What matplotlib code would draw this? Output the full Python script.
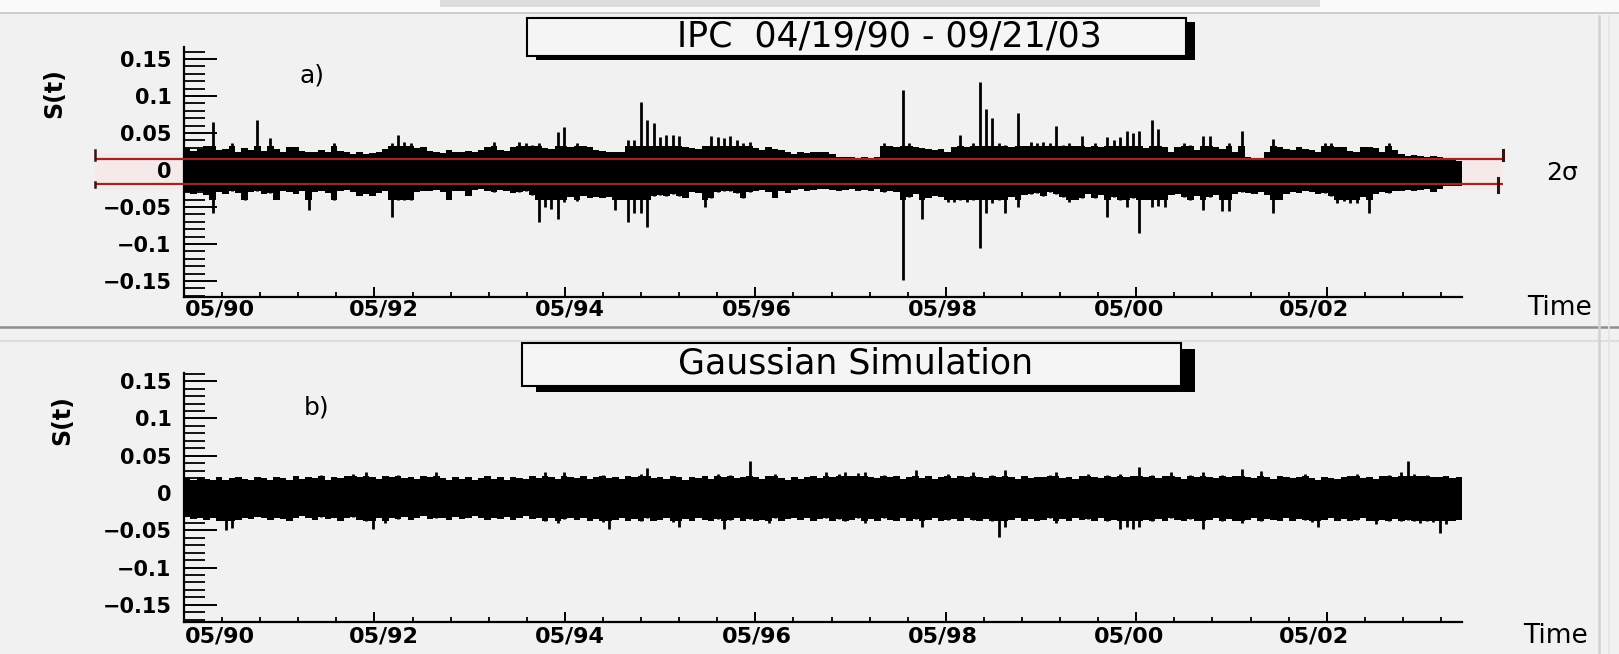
import numpy as np
import matplotlib
matplotlib.use("Agg")
import matplotlib.pyplot as plt
from matplotlib.patches import Rectangle
from matplotlib.lines import Line2D
from matplotlib.ticker import MultipleLocator, FixedLocator

plt.rcParams['font.family'] = ['DejaVu Sans']

# ---------------- data ----------------
DATE_START = 1990.30   # 04/19/90
DATE_END = 2003.72     # 09/21/03

TITLE_TOP = "IPC  04/19/90 - 09/21/03"
TITLE_BOT = "Gaussian Simulation"

XLABELS = ["05/90", "05/92", "05/94", "05/96", "05/98", "05/00", "05/02"]
XLABEL_POS = [1990.68, 1992.40, 1994.35, 1996.32, 1998.27, 2000.22, 2002.17]
YTICKS = [-0.15, -0.10, -0.05, 0.0, 0.05, 0.10, 0.15]
YLABELS = ["\u22120.15", "\u22120.1", "\u22120.05", "0", "0.05", "0.1", "0.15"]

MEAN = -0.0017
TWO_SIGMA = 0.0172

# IPC returns: per-bin maximum and minimum
TOP_HI = [
    0.030, 0.026, 0.028, 0.032, 0.065, 0.027, 0.029, 0.036, 0.025, 0.030,
    0.027, 0.068, 0.026, 0.043, 0.028, 0.025, 0.031, 0.031, 0.026, 0.025,
    0.024, 0.027, 0.025, 0.036, 0.026, 0.024, 0.022, 0.024, 0.022, 0.023,
    0.024, 0.028, 0.036, 0.047, 0.038, 0.036, 0.030, 0.031, 0.026, 0.024,
    0.023, 0.027, 0.025, 0.024, 0.026, 0.024, 0.027, 0.031, 0.038, 0.027,
    0.026, 0.031, 0.038, 0.036, 0.034, 0.036, 0.030, 0.028, 0.052, 0.058,
    0.031, 0.036, 0.033, 0.031, 0.027, 0.026, 0.025, 0.024, 0.025, 0.041,
    0.040, 0.092, 0.068, 0.063, 0.044, 0.048, 0.047, 0.046, 0.031, 0.030,
    0.028, 0.032, 0.046, 0.045, 0.043, 0.046, 0.040, 0.036, 0.038, 0.030,
    0.027, 0.031, 0.029, 0.027, 0.024, 0.022, 0.024, 0.023, 0.025, 0.025,
    0.024, 0.022, 0.018, 0.017, 0.018, 0.016, 0.017, 0.015, 0.018, 0.036,
    0.033, 0.031, 0.108, 0.036, 0.031, 0.030, 0.028, 0.027, 0.029, 0.025,
    0.031, 0.047, 0.031, 0.036, 0.119, 0.083, 0.070, 0.036, 0.034, 0.031,
    0.077, 0.033, 0.038, 0.036, 0.038, 0.037, 0.060, 0.034, 0.036, 0.033,
    0.046, 0.031, 0.036, 0.031, 0.045, 0.041, 0.045, 0.053, 0.050, 0.053,
    0.030, 0.068, 0.056, 0.031, 0.025, 0.031, 0.036, 0.034, 0.027, 0.046,
    0.046, 0.031, 0.029, 0.036, 0.025, 0.053, 0.017, 0.016, 0.015, 0.024,
    0.042, 0.031, 0.029, 0.027, 0.031, 0.029, 0.027, 0.025, 0.036, 0.036,
    0.031, 0.031, 0.026, 0.024, 0.031, 0.031, 0.030, 0.024, 0.036, 0.027,
    0.022, 0.019, 0.020, 0.019, 0.018, 0.019, 0.018, 0.013, 0.013, 0.012,
]
TOP_LO = [
    -0.030, -0.032, -0.028, -0.034, -0.058, -0.030, -0.032, -0.029, -0.031, -0.041,
    -0.030, -0.028, -0.033, -0.031, -0.040, -0.029, -0.030, -0.032, -0.028, -0.054,
    -0.030, -0.028, -0.031, -0.041, -0.029, -0.027, -0.030, -0.035, -0.033, -0.035,
    -0.031, -0.028, -0.063, -0.041, -0.040, -0.041, -0.030, -0.028, -0.029, -0.027,
    -0.030, -0.040, -0.028, -0.029, -0.035, -0.027, -0.026, -0.028, -0.030, -0.027,
    -0.029, -0.031, -0.030, -0.028, -0.034, -0.070, -0.050, -0.052, -0.066, -0.043,
    -0.036, -0.042, -0.035, -0.038, -0.037, -0.038, -0.036, -0.054, -0.040, -0.070,
    -0.058, -0.058, -0.077, -0.035, -0.034, -0.035, -0.033, -0.035, -0.038, -0.030,
    -0.031, -0.050, -0.038, -0.030, -0.028, -0.029, -0.031, -0.038, -0.030, -0.028,
    -0.027, -0.030, -0.038, -0.028, -0.031, -0.027, -0.026, -0.028, -0.027, -0.026,
    -0.025, -0.027, -0.028, -0.027, -0.026, -0.028, -0.027, -0.028, -0.026, -0.030,
    -0.028, -0.030, -0.149, -0.036, -0.033, -0.066, -0.038, -0.035, -0.037, -0.043,
    -0.043, -0.041, -0.043, -0.040, -0.106, -0.058, -0.045, -0.040, -0.058, -0.036,
    -0.050, -0.034, -0.033, -0.031, -0.035, -0.030, -0.032, -0.037, -0.043, -0.040,
    -0.038, -0.033, -0.038, -0.034, -0.063, -0.036, -0.040, -0.050, -0.038, -0.085,
    -0.040, -0.050, -0.048, -0.050, -0.034, -0.032, -0.036, -0.040, -0.035, -0.054,
    -0.036, -0.034, -0.056, -0.056, -0.033, -0.030, -0.031, -0.032, -0.030, -0.034,
    -0.058, -0.040, -0.032, -0.030, -0.031, -0.029, -0.030, -0.033, -0.031, -0.035,
    -0.045, -0.042, -0.044, -0.045, -0.036, -0.058, -0.032, -0.030, -0.031, -0.028,
    -0.028, -0.027, -0.028, -0.027, -0.026, -0.030, -0.025, -0.022, -0.021, -0.021,
]

# Gaussian simulation: per-bin maximum and minimum
BOT_HI = [
    0.020, 0.018, 0.022, 0.019, 0.018, 0.021, 0.017, 0.020, 0.022, 0.019,
    0.018, 0.021, 0.020, 0.017, 0.022, 0.020, 0.018, 0.023, 0.019, 0.021,
    0.020, 0.024, 0.018, 0.022, 0.020, 0.023, 0.025, 0.021, 0.028, 0.022,
    0.019, 0.023, 0.021, 0.024, 0.020, 0.022, 0.019, 0.023, 0.021, 0.028,
    0.020, 0.018, 0.022, 0.019, 0.021, 0.018, 0.020, 0.023, 0.019, 0.021,
    0.018, 0.022, 0.020, 0.019, 0.023, 0.020, 0.028, 0.021, 0.019, 0.028,
    0.022, 0.020, 0.023, 0.019, 0.021, 0.024, 0.020, 0.022, 0.019, 0.023,
    0.021, 0.025, 0.033, 0.020, 0.022, 0.019, 0.023, 0.021, 0.018, 0.022,
    0.020, 0.023, 0.019, 0.026, 0.021, 0.024, 0.020, 0.022, 0.043, 0.021,
    0.019, 0.023, 0.026, 0.020, 0.018, 0.022, 0.019, 0.021, 0.023, 0.020,
    0.028, 0.022, 0.026, 0.028, 0.023, 0.027, 0.028, 0.022, 0.020, 0.024,
    0.021, 0.023, 0.019, 0.022, 0.031, 0.020, 0.023, 0.019, 0.021, 0.025,
    0.020, 0.023, 0.021, 0.028, 0.022, 0.020, 0.024, 0.021, 0.031, 0.022,
    0.019, 0.023, 0.020, 0.022, 0.021, 0.024, 0.028, 0.020, 0.022, 0.019,
    0.023, 0.026, 0.021, 0.020, 0.024, 0.022, 0.025, 0.021, 0.023, 0.035,
    0.021, 0.024, 0.020, 0.023, 0.028, 0.022, 0.019, 0.024, 0.021, 0.028,
    0.022, 0.020, 0.024, 0.021, 0.023, 0.032, 0.022, 0.020, 0.030, 0.022,
    0.019, 0.023, 0.021, 0.020, 0.022, 0.026, 0.020, 0.018, 0.022, 0.020,
    0.019, 0.021, 0.023, 0.025, 0.020, 0.022, 0.019, 0.023, 0.024, 0.022,
    0.028, 0.043, 0.026, 0.023, 0.024, 0.022, 0.021, 0.023, 0.020, 0.021,
]
BOT_LO = [
    -0.032, -0.035, -0.033, -0.036, -0.034, -0.038, -0.050, -0.047, -0.036, -0.033,
    -0.035, -0.032, -0.034, -0.036, -0.033, -0.035, -0.037, -0.033, -0.031, -0.034,
    -0.036, -0.032, -0.035, -0.033, -0.037, -0.034, -0.032, -0.036, -0.038, -0.048,
    -0.034, -0.040, -0.033, -0.035, -0.032, -0.036, -0.034, -0.031, -0.035, -0.033,
    -0.034, -0.036, -0.032, -0.035, -0.033, -0.031, -0.034, -0.036, -0.033, -0.035,
    -0.032, -0.036, -0.034, -0.031, -0.035, -0.033, -0.037, -0.034, -0.040, -0.035,
    -0.033, -0.036, -0.034, -0.037, -0.035, -0.039, -0.048, -0.036, -0.033, -0.038,
    -0.035, -0.037, -0.034, -0.038, -0.036, -0.034, -0.039, -0.046, -0.035, -0.037,
    -0.034, -0.036, -0.038, -0.035, -0.048, -0.036, -0.034, -0.037, -0.035, -0.038,
    -0.036, -0.040, -0.034, -0.037, -0.035, -0.033, -0.036, -0.034, -0.037, -0.035,
    -0.034, -0.037, -0.035, -0.038, -0.036, -0.034, -0.040, -0.035, -0.037, -0.034,
    -0.036, -0.038, -0.034, -0.037, -0.035, -0.046, -0.036, -0.034, -0.038, -0.036,
    -0.035, -0.037, -0.034, -0.036, -0.038, -0.035, -0.037, -0.059, -0.045, -0.036,
    -0.034, -0.037, -0.035, -0.038, -0.036, -0.034, -0.040, -0.035, -0.037, -0.034,
    -0.036, -0.035, -0.038, -0.034, -0.037, -0.036, -0.048, -0.046, -0.048, -0.045,
    -0.036, -0.038, -0.035, -0.037, -0.034, -0.036, -0.038, -0.035, -0.037, -0.048,
    -0.036, -0.034, -0.037, -0.035, -0.038, -0.040, -0.036, -0.034, -0.037, -0.035,
    -0.036, -0.038, -0.034, -0.037, -0.035, -0.036, -0.039, -0.045, -0.036, -0.034,
    -0.037, -0.035, -0.038, -0.036, -0.034, -0.037, -0.042, -0.036, -0.038, -0.035,
    -0.037, -0.036, -0.038, -0.040, -0.037, -0.039, -0.053, -0.041, -0.038, -0.036,
]

# ---------------- figure ----------------
W, H = 1619, 654
BG = '#f1f1f1'
fig = plt.figure(figsize=(W / 100, H / 100), dpi=100, facecolor=BG)


def fx(px):
    return px / W


def fy(py):
    return 1 - py / H


# scan decorations
fig.add_artist(Rectangle((0, fy(13)), 1, 13 / H, transform=fig.transFigure,
                         facecolor='#fafafa', edgecolor='none', zorder=0))
fig.add_artist(Rectangle((fx(440), fy(7)), fx(880), 7 / H, transform=fig.transFigure,
                         facecolor='#dcdcdc', edgecolor='none', zorder=0))
fig.add_artist(Line2D([0, 1], [fy(13), fy(13)], transform=fig.transFigure,
                      color='#c8c8c8', lw=1.2))
fig.add_artist(Line2D([0, 1], [fy(327), fy(327)], transform=fig.transFigure,
                      color='#8e8e8e', lw=1.8))
fig.add_artist(Line2D([0, 1], [fy(341), fy(341)], transform=fig.transFigure,
                      color='#dadada', lw=1.2))
fig.add_artist(Line2D([fx(1599), fx(1599)], [0, fy(16)], transform=fig.transFigure,
                      color='#d2d2d2', lw=1.8))
fig.add_artist(Line2D([fx(1609), fx(1609)], [0, fy(16)], transform=fig.transFigure,
                      color='#e4e4e4', lw=1.2))


def style_axis(ax, ylim):
    ax.set_facecolor('none')
    ax.set_xlim(DATE_START, DATE_END)
    ax.set_ylim(*ylim)
    for s in ('top', 'right'):
        ax.spines[s].set_visible(False)
    for s in ('left', 'bottom'):
        ax.spines[s].set_linewidth(1.6)
        ax.spines[s].set_color('black')
    ax.set_yticks(YTICKS)
    ax.set_yticklabels(YLABELS, fontsize=15, fontweight='bold')
    ax.yaxis.set_minor_locator(MultipleLocator(0.01))
    ax.tick_params(axis='y', which='major', direction='in', length=24, width=1.4, pad=9,
                   right=False)
    ax.tick_params(axis='y', which='minor', direction='in', length=15, width=1.3, right=False)
    ax.xaxis.set_major_locator(FixedLocator(np.arange(DATE_START, DATE_END, 2.0)))
    ax.xaxis.set_minor_locator(FixedLocator(np.arange(DATE_START, DATE_END, 0.4)))
    ax.tick_params(axis='x', which='major', direction='in', length=7, width=1.4,
                   labelbottom=False, top=False)
    ax.tick_params(axis='x', which='minor', direction='in', length=3.5, width=1.3, top=False)


def draw_series(ax, hi, lo, core_hi, core_lo):
    hi = np.asarray(hi)
    lo = np.asarray(lo)
    n = len(hi)
    edges = np.linspace(DATE_START, DATE_END, n + 1)
    centers = 0.5 * (edges[:-1] + edges[1:])
    width = edges[1] - edges[0]
    ch = np.minimum(hi, core_hi)
    cl = np.maximum(lo, core_lo)
    ax.bar(centers, ch - cl, bottom=cl, width=width * 1.02, color='black',
           linewidth=0, zorder=2)
    big = (hi > core_hi) | (lo < core_lo)
    ax.vlines(centers[big], lo[big], hi[big], color='black', linewidth=2.0, zorder=2)


def xlabels(ax, yoff):
    for pos, lab in zip(XLABEL_POS, XLABELS):
        ax.text(pos, yoff, lab, transform=ax.get_xaxis_transform(), ha='center',
                va='center', fontsize=16, fontweight='bold', clip_on=False)


# ---- top panel ----
ax1 = fig.add_axes([fx(184), fy(297.3), 1278 / W, (297.3 - 47.2) / H])
style_axis(ax1, (-0.172, 0.166))
draw_series(ax1, TOP_HI, TOP_LO, 0.033, -0.040)
xlabels(ax1, -0.047)

# 2 sigma lines
x_left = DATE_START + (95 - 184) / 95.23
x_right = DATE_START + (1503 - 184) / 95.23
up = MEAN + TWO_SIGMA
dn = MEAN - TWO_SIGMA
ax1.add_patch(Rectangle((x_left, dn - 0.008), x_right - x_left, up - dn + 0.016,
                        facecolor='#f5e9e9', edgecolor='none', zorder=1, clip_on=False))
for yv in (up, dn):
    ax1.plot([x_left, x_right], [yv, yv], color='#9c2626', lw=1.6, zorder=3,
             clip_on=False, solid_capstyle='butt')
cap = 0.008
ax1.plot([x_left, x_left], [up - 0.002, up + cap + 0.004], color='#3a1010', lw=1.8,
         zorder=3, clip_on=False)
ax1.plot([x_left, x_left], [dn + 0.003, dn - 0.004], color='#3a1010', lw=1.8,
         zorder=3, clip_on=False)
ax1.plot([x_right, x_right], [up - 0.002, up + cap + 0.004], color='#3a1010', lw=2.2,
         zorder=3, clip_on=False)
ax1.plot([x_right - 0.05, x_right - 0.05], [dn + 0.008, dn - 0.011], color='#3a1010',
         lw=2.2, zorder=3, clip_on=False)
fig.text(fx(1562), fy(173), '2\u03c3', ha='center', va='center', fontsize=18)

# ---- bottom panel ----
ax2 = fig.add_axes([fx(184), fy(622), 1278 / W, (622 - 373) / H])
style_axis(ax2, (-0.173, 0.161))
draw_series(ax2, BOT_HI, BOT_LO, 0.023, -0.038)
xlabels(ax2, -0.060)

# ---- labels ----
fig.text(fx(54), fy(93), 'S(t)', rotation=90, ha='center', va='center',
         fontsize=17, fontweight='bold')
fig.text(fx(62), fy(420), 'S(t)', rotation=90, ha='center', va='center',
         fontsize=17, fontweight='bold')
fig.text(fx(312), fy(76), 'a)', ha='center', va='center', fontsize=18)
fig.text(fx(317), fy(408), 'b)', ha='center', va='center', fontsize=18)
fig.text(fx(1559), fy(308), 'Time', ha='center', va='center', fontsize=19)
fig.text(fx(1555), fy(636), 'Time', ha='center', va='center', fontsize=19)


# ---- title boxes with shadow ----
def title_box(x0, y0, x1, y1, sdx, sdy, text, tx, ty):
    fig.add_artist(Rectangle((fx(x0 + sdx), fy(y1 + sdy)), (x1 - x0) / W, (y1 - y0) / H,
                             transform=fig.transFigure, facecolor='black',
                             edgecolor='none', zorder=5))
    fig.add_artist(Rectangle((fx(x0), fy(y1)), (x1 - x0) / W, (y1 - y0) / H,
                             transform=fig.transFigure, facecolor='#f5f5f5',
                             edgecolor='black', lw=1.5, zorder=6))
    fig.text(fx(tx), fy(ty), text, ha='center', va='center', fontsize=25, zorder=7)


title_box(527, 18, 1186, 56, 9, 4, TITLE_TOP, 889, 36)
title_box(522, 343, 1181, 386, 14, 6, TITLE_BOT, 856, 364)

fig.savefig('out.png', dpi=100, facecolor=BG)
